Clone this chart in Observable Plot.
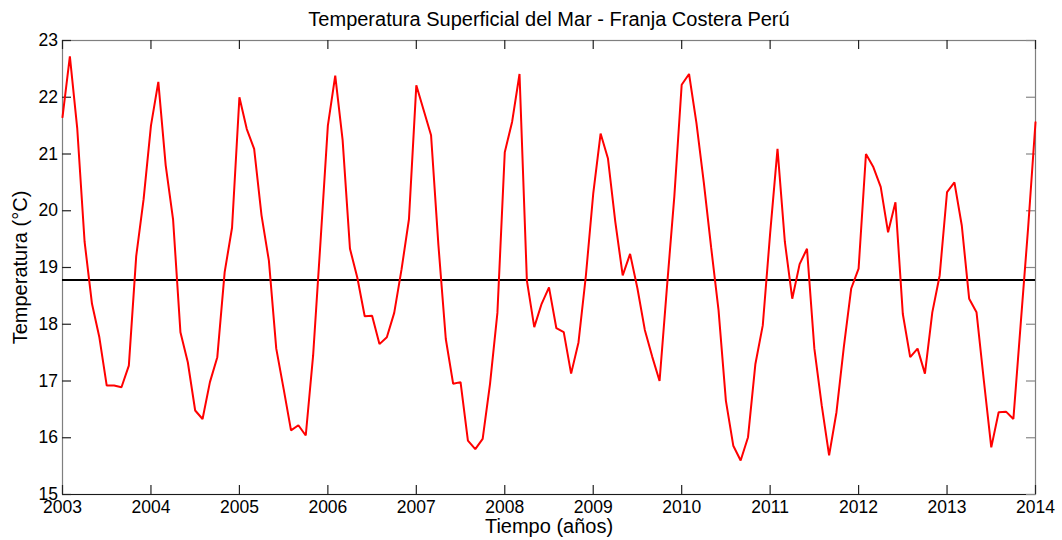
<!DOCTYPE html>
<html>
<head>
<meta charset="utf-8">
<script src="https://cdn.jsdelivr.net/npm/d3@7"></script>
<script src="https://cdn.jsdelivr.net/npm/@observablehq/plot@0.6"></script>
<style>
  html, body { margin: 0; padding: 0; background: #fff; }
  svg { display: block; }
</style>
</head>
<body>
<div id="chart"></div>
<script>
// Monthly sea surface temperature (°C), January..December of each year
const sst2003 = [21.65, 22.72, 21.45, 19.45, 18.36, 17.77, 16.92, 16.92, 16.89, 17.27, 19.2, 20.2];
const sst2004 = [21.5, 22.27, 20.8, 19.85, 17.86, 17.33, 16.48, 16.33, 16.98, 17.42, 18.92, 19.7];
const sst2005 = [22.0, 21.44, 21.09, 19.92, 19.12, 17.57, 16.86, 16.13, 16.22, 16.04, 17.45, 19.45];
const sst2006 = [21.5, 22.38, 21.25, 19.33, 18.82, 18.14, 18.15, 17.65, 17.77, 18.2, 18.97, 19.85];
const sst2007 = [22.21, 21.77, 21.33, 19.39, 17.74, 16.95, 16.98, 15.95, 15.8, 15.98, 16.95, 18.2];
const sst2008 = [21.03, 21.57, 22.41, 18.77, 17.95, 18.36, 18.65, 17.93, 17.86, 17.13, 17.68, 18.85];
const sst2009 = [20.3, 21.36, 20.92, 19.8, 18.86, 19.24, 18.63, 17.9, 17.43, 17.0, 18.65, 20.25];
const sst2010 = [22.22, 22.41, 21.55, 20.5, 19.35, 18.25, 16.65, 15.86, 15.6, 16.01, 17.3, 17.98];
const sst2011 = [19.6, 21.09, 19.45, 18.45, 19.06, 19.33, 17.57, 16.57, 15.69, 16.45, 17.6, 18.63];
const sst2012 = [18.98, 21.0, 20.77, 20.42, 19.62, 20.15, 18.18, 17.42, 17.57, 17.13, 18.21, 18.86];
const sst2013 = [20.33, 20.5, 19.74, 18.45, 18.21, 17.0, 15.83, 16.45, 16.46, 16.33, 18.02, 19.7];
const sst2014 = [21.56];

const years = [2003, 2004, 2005, 2006, 2007, 2008, 2009, 2010, 2011, 2012, 2013, 2014];
const yearlySeries = [sst2003, sst2004, sst2005, sst2006, sst2007, sst2008, sst2009, sst2010, sst2011, sst2012, sst2013, sst2014];
const meanTemp = 18.78;

const xTicks = [2003, 2004, 2005, 2006, 2007, 2008, 2009, 2010, 2011, 2012, 2013, 2014];
const yTicks = [15, 16, 17, 18, 19, 20, 21, 22, 23];

const titleText = "Temperatura Superficial del Mar - Franja Costera Perú";
const xLabel = "Tiempo (años)";
const yLabel = "Temperatura (°C)";

// Build table
const data = [];
yearlySeries.forEach((vals, i) => {
  vals.forEach((v, m) => data.push({t: years[i] + m / 12, v}));
});

const W = 1062, H = 540;
const mL = 62, mR = 27, mT = 40, mB = 46;
const fw = W - mL - mR, fh = H - mT - mB;
const tick = 9;
const font = "'Liberation Sans', Arial, Helvetica, sans-serif";

const chart = Plot.plot({
  width: W,
  height: H,
  marginLeft: mL,
  marginRight: mR,
  marginTop: mT,
  marginBottom: mB,
  style: {fontFamily: font, fontSize: "17.5px", background: "#fff", color: "#000", overflow: "visible"},
  x: {domain: [2003, 2014]},
  y: {domain: [15, 23]},
  marks: [
    Plot.frame({stroke: "#7f7f7f", strokeWidth: 1.2}),
    Plot.ruleY([15], {stroke: "#1a1a1a", strokeWidth: 1.2}),
    // inward ticks: bottom & top
    Plot.ruleX(xTicks, {x: d => d, insetTop: fh - tick, stroke: "#222", strokeWidth: 1.2}),
    Plot.ruleX(xTicks, {x: d => d, insetBottom: fh - tick, stroke: "#222", strokeWidth: 1.2}),
    // inward ticks: left & right
    Plot.ruleY(yTicks, {y: d => d, insetRight: fw - tick, stroke: "#222", strokeWidth: 1.2}),
    Plot.ruleY(yTicks, {y: d => d, insetLeft: fw - tick, stroke: "#888", strokeWidth: 1.2}),
    Plot.axisX({ticks: xTicks, tickSize: 0, tickPadding: 6.5, tickFormat: d => String(d), fontSize: 17.5, label: null}),
    Plot.axisY({ticks: yTicks, tickSize: 0, tickPadding: 4.5, tickFormat: d => String(d), fontSize: 17.5, label: null}),
    Plot.ruleY([meanTemp], {stroke: "#000", strokeWidth: 2}),
    Plot.line(data, {x: "t", y: "v", stroke: "#ff0000", strokeWidth: 2, strokeLinejoin: "miter"}),
    Plot.text([titleText], {frameAnchor: "top", lineAnchor: "middle", textAnchor: "middle", dy: -20.7, fontSize: 20, fill: "#000"}),
    Plot.text([xLabel], {frameAnchor: "bottom", lineAnchor: "middle", textAnchor: "middle", dy: 32.5, fontSize: 20, fill: "#000"}),
    Plot.text([yLabel], {frameAnchor: "left", lineAnchor: "middle", textAnchor: "middle", dx: -42, rotate: -90, fontSize: 20, fill: "#000"})
  ]
});

document.getElementById("chart").appendChild(chart);
</script>
</body>
</html>
